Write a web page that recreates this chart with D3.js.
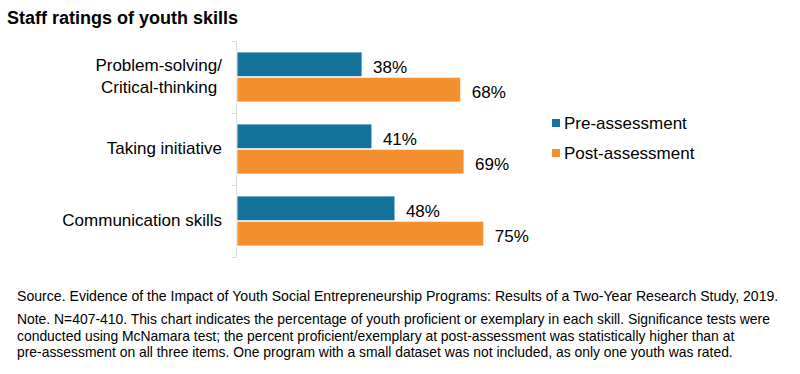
<!DOCTYPE html>
<html><head><meta charset="utf-8">
<script src="https://cdn.jsdelivr.net/npm/d3@7"></script>
<style>body{margin:0;background:#fff;} svg{display:block;font-family:"Liberation Sans",Arial,sans-serif;}</style>
</head><body>
<svg id="chart" width="800" height="374"></svg>
<script>
const title = "Staff ratings of youth skills";
const categories = [["Problem-solving/", "Critical-thinking "], ["Taking initiative"], ["Communication skills"]];
const categoryKeys = ["Problem-solving/Critical-thinking", "Taking initiative", "Communication skills"];
const seriesNames = ["Pre-assessment", "Post-assessment"];
const preValues = [38, 41, 48];
const postValues = [68, 69, 75];
const colors = ["#14739B", "#F48F2F"];
const footnotes = [
  "Source. Evidence of the Impact of Youth Social Entrepreneurship Programs: Results of a Two-Year Research Study, 2019.",
  "Note. N=407-410. This chart indicates the percentage of youth proficient or exemplary in each skill. Significance tests were",
  "conducted using McNamara test; the percent proficient/exemplary at post-assessment was statistically higher than at",
  "pre-assessment on all three items. One program with a small dataset was not included, as only one youth was rated."
];

const svg = d3.select("#chart");
const x = d3.scaleLinear().domain([0, 100]).range([237, 566]);
const y = d3.scaleBand().domain(categoryKeys).range([41, 257]).paddingInner(0).paddingOuter(0);
const inner = d3.scaleBand().domain(seriesNames).range([11, y.bandwidth() - 11]).paddingInner(0.02);

svg.append("text").attr("x", 7).attr("y", 24).attr("font-size", 18).attr("font-weight", "bold").attr("fill", "#000").text(title);

// axis line and ticks
const ax = svg.append("g");
ax.append("line").attr("x1", 236.5).attr("x2", 236.5).attr("y1", 41).attr("y2", 257).attr("stroke", "#d9d9d9");
const bounds = categoryKeys.map(c => y(c)).concat([y.range()[1]]);
ax.selectAll("line.t").data(bounds).join("line").attr("class", "t")
  .attr("x1", 232).attr("x2", 236.5).attr("y1", d => d + 0.5).attr("y2", d => d + 0.5).attr("stroke", "#d9d9d9");

// category labels
categoryKeys.forEach((c, i) => {
  const lines = categories[i];
  const cy = y(c) + y.bandwidth() / 2 - 0.5;
  const lh = 22;
  lines.forEach((l, j) => {
    svg.append("text").attr("x", 222).attr("y", cy + (j - (lines.length - 1) / 2) * lh).attr("dy", "0.35em")
      .attr("text-anchor", "end").attr("font-size", 17).attr("fill", "#000").style("white-space", "pre").text(l);
  });
});

const data = [preValues, postValues];
data.forEach((vals, s) => {
  const g = svg.append("g");
  g.selectAll("rect").data(vals).join("rect")
    .attr("x", x(0)).attr("y", (d, i) => y(categoryKeys[i]) + inner(seriesNames[s]))
    .attr("width", d => x(d) - x(0)).attr("height", inner.bandwidth())
    .attr("fill", colors[s]).attr("stroke", "#fff").attr("stroke-width", 0.8);
  g.selectAll("text").data(vals).join("text")
    .attr("x", d => x(d) + 11).attr("y", (d, i) => y(categoryKeys[i]) + inner(seriesNames[s]) + inner.bandwidth() / 2 + 2.5)
    .attr("dy", "0.35em").attr("font-size", 17).attr("fill", "#000").text(d => d + "%");
});

// legend
seriesNames.forEach((n, i) => {
  const ly = 123 + i * 30;
  svg.append("rect").attr("x", 552).attr("y", ly - 4).attr("width", 8).attr("height", 8).attr("fill", colors[i]);
  svg.append("text").attr("x", 564).attr("y", ly).attr("dy", "0.35em").attr("font-size", 17).attr("fill", "#000").text(n);
});

// footnotes
const fy = [300.5, 324, 340.5, 357];
const fs = [14.1, 13.9, 13.9, 13.9];
footnotes.forEach((f, i) => {
  svg.append("text").attr("x", 17).attr("y", fy[i]).attr("font-size", fs[i]).attr("fill", "#000").text(f);
});
</script>
</body></html>
